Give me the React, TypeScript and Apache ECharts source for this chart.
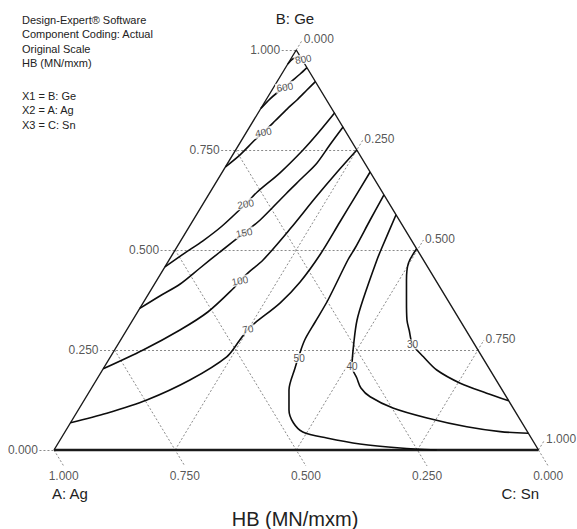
import React, { useEffect, useRef } from "react";
import * as echarts from "echarts";

// ---- data ----
const ticks = [0, 0.25, 0.5, 0.75, 1];
const tickText = ["0.000", "0.250", "0.500", "0.750", "1.000"];
const levels = [800, 600, 400, 200, 150, 100, 70, 50, 40, 30];

// contour paths as [B: Ge, C: Sn] fractions (A: Ag = 1 - B - C)
const c800 = [[0.965, 0], [0.978, 0.004], [0.985, 0.015]];
const c600 = [[0.854, 0], [0.878, 0.007], [0.895, 0.015], [0.908, 0.023], [0.923, 0.03], [0.94, 0.038], [0.956, 0.044]];
const c400 = [[0.708, 0], [0.738, 0.015], [0.775, 0.027], [0.794, 0.035], [0.823, 0.045], [0.853, 0.055], [0.875, 0.064], [0.9, 0.072], [0.921, 0.079]];
const c200 = [[0.458, 0], [0.493, 0.024], [0.523, 0.046], [0.56, 0.067], [0.615, 0.088], [0.645, 0.097], [0.693, 0.12], [0.75, 0.139], [0.793, 0.149], [0.843, 0.158]];
const c150 = [[0.354, 0], [0.385, 0.026], [0.415, 0.053], [0.455, 0.074], [0.495, 0.095], [0.543, 0.121], [0.575, 0.138], [0.642, 0.159], [0.683, 0.173], [0.717, 0.184], [0.763, 0.188], [0.808, 0.193]];
const c100 = [[0.203, 0], [0.25, 0.059], [0.3, 0.11], [0.345, 0.145], [0.403, 0.168], [0.423, 0.172], [0.443, 0.179], [0.475, 0.194], [0.553, 0.211], [0.63, 0.224], [0.695, 0.237], [0.75, 0.25]];
const c70 = [[0.068, 0], [0.092, 0.063], [0.125, 0.129], [0.175, 0.193], [0.233, 0.24], [0.275, 0.246], [0.302, 0.249], [0.318, 0.256], [0.368, 0.283], [0.42, 0.298], [0.488, 0.305], [0.57, 0.305], [0.633, 0.305], [0.695, 0.305]];
const c50 = [[0.638, 0.362], [0.575, 0.365], [0.505, 0.369], [0.475, 0.369], [0.375, 0.378], [0.32, 0.379], [0.275, 0.38], [0.23, 0.389], [0.205, 0.395], [0.15, 0.41], [0.1, 0.435], [0.068, 0.46], [0.045, 0.491], [0.03, 0.548], [0.015, 0.624], [0.005, 0.712], [0, 0.79]];
const c40 = [[0.588, 0.412], [0.505, 0.424], [0.475, 0.429], [0.375, 0.45], [0.325, 0.463], [0.275, 0.482], [0.208, 0.511], [0.18, 0.535], [0.155, 0.556], [0.133, 0.586], [0.105, 0.647], [0.08, 0.73], [0.058, 0.823], [0.046, 0.898], [0.042, 0.958]];
const c30 = [[0.503, 0.497], [0.467, 0.498], [0.425, 0.515], [0.375, 0.54], [0.325, 0.566], [0.3, 0.583], [0.264, 0.608], [0.233, 0.646], [0.2, 0.69], [0.167, 0.755], [0.142, 0.822], [0.123, 0.877]];

// contour label anchor points [B, C] and tilt (degrees)
const labelAt = [[0.977, 0.026], [0.907, 0.023], [0.794, 0.035], [0.615, 0.088], [0.543, 0.121], [0.423, 0.172], [0.302, 0.249], [0.23, 0.391], [0.208, 0.511], [0.264, 0.608]];
const labelTilt = [10, 10, 10, 10, 10, 10, 10, 0, 0, 0];

const infoLines = [
  "Design-Expert® Software",
  "Component Coding: Actual",
  "Original Scale",
  "HB (MN/mxm)",
  "X1 = B: Ge",
  "X2 = A: Ag",
  "X3 = C: Sn",
];
const infoY = [20, 34.3, 48.6, 62.9, 96, 110.3, 124.6];

const FONT = '"Liberation Sans", Arial, Helvetica, sans-serif';

// ternary (B, C) -> cartesian data coordinates
function xy(b: number, c: number): number[] {
  return [c + b / 2, b];
}

export default function App() {
  const ref = useRef<HTMLDivElement>(null);
  useEffect(() => {
    if (!ref.current) return;
    const chart = echarts.init(ref.current, undefined, { renderer: "svg" });

    const contours = [c800, c600, c400, c200, c150, c100, c70, c50, c40, c30];

    const gridLines: any[] = [];
    const bLabels: any[] = [];
    const aLabels: any[] = [];
    const cLabels: any[] = [];
    const EB = 0.03, EA = 0.04, EC = 0.025;
    ticks.forEach((t, i) => {
      const bEnd = t > 0 && t < 1 ? xy(t, 1 - t) : xy(t, 0);
      gridLines.push({ coords: [xy(t, -EB), bEnd] });
      bLabels.push({ value: xy(t, -EB), name: tickText[i] });
      const aStart = t > 0 && t < 1 ? xy(1 - t, 0) : xy(0, 1 - t);
      gridLines.push({ coords: [aStart, xy(-EA, 1 - t + EA)] });
      aLabels.push({ value: xy(-EA, 1 - t + EA), name: tickText[i] });
      const cStart = t > 0 && t < 1 ? xy(0, t) : xy(1 - t, t);
      gridLines.push({ coords: [cStart, xy(1 - t + EC, t)] });
      cLabels.push({ value: xy(1 - t + EC, t), name: tickText[i] });
    });

    const tickLabelSeries = (data: any[], position: string, distance: number, offset: number[]) => ({
      type: "scatter",
      data,
      symbol: "circle",
      symbolSize: 1,
      itemStyle: { color: "rgba(0,0,0,0)" },
      silent: true,
      clip: false,
      z: 6,
      label: {
        show: true,
        formatter: "{b}",
        position,
        distance,
        offset,
        fontSize: 12,
        fontFamily: FONT,
        color: "#2a2a2a",
      },
    });

    const option: any = {
      animation: false,
      backgroundColor: "#fff",
      grid: { left: 54, top: 50, width: 484.5, height: 400, containLabel: false },
      xAxis: { type: "value", min: 0, max: 1, show: false },
      yAxis: { type: "value", min: 0, max: 1, show: false },
      series: [
        {
          type: "lines",
          coordinateSystem: "cartesian2d",
          polyline: false,
          silent: true,
          z: 1,
          clip: false,
          lineStyle: { color: "#8a8a8a", width: 1, type: [2, 2], opacity: 1 },
          data: gridLines,
        },
        {
          type: "line",
          data: [xy(0, 0), xy(1, 0), xy(0, 1)],
          symbol: "none",
          silent: true,
          clip: false,
          z: 2,
          lineStyle: { color: "#1a1a1a", width: 1.4 },
        },
        {
          type: "line",
          data: [xy(0, 0), xy(0, 1)],
          symbol: "none",
          silent: true,
          clip: false,
          z: 2,
          lineStyle: { color: "#1a1a1a", width: 2.4 },
        },
        ...contours.map((pts) => ({
          type: "line",
          data: pts.map(([b, c]) => xy(b, c)),
          symbol: "none",
          smooth: 0.3,
          silent: true,
          clip: false,
          z: 3,
          lineStyle: { color: "#0d0d0d", width: 1.6 },
        })),
        {
          type: "scatter",
          data: labelAt.map(([b, c], i) => ({
            value: xy(b, c),
            name: String(levels[i]),
            label: { rotate: labelTilt[i] },
          })),
          symbol: "circle",
          symbolSize: 1,
          itemStyle: { color: "rgba(0,0,0,0)" },
          silent: true,
          clip: false,
          z: 7,
          label: {
            show: true,
            formatter: "{b}",
            position: "inside",
            fontSize: 10,
            fontFamily: FONT,
            color: "#222",
            backgroundColor: "#fff",
            padding: [0, 1],
          },
        },
        tickLabelSeries(bLabels, "left", 1, [0, 0]),
        tickLabelSeries(aLabels, "bottom", 3, [0, 0]),
        tickLabelSeries(cLabels, "right", 1, [0, -1]),
      ],
      graphic: [
        ...infoLines.map((s, i) => ({
          type: "text",
          x: 22,
          y: infoY[i],
          silent: true,
          style: { text: s, fill: "#222", font: `11px ${FONT}`, verticalAlign: "middle", align: "left" },
        })),
        {
          type: "text", x: 295, y: 18, silent: true,
          style: { text: "B: Ge", fill: "#222", font: `15px ${FONT}`, align: "center", verticalAlign: "middle" },
        },
        {
          type: "text", x: 52, y: 493, silent: true,
          style: { text: "A: Ag", fill: "#222", font: `15px ${FONT}`, align: "left", verticalAlign: "middle" },
        },
        {
          type: "text", x: 539, y: 493, silent: true,
          style: { text: "C: Sn", fill: "#222", font: `15px ${FONT}`, align: "right", verticalAlign: "middle" },
        },
        {
          type: "text", x: 295, y: 519, silent: true,
          style: { text: "HB (MN/mxm)", fill: "#222", font: `20px ${FONT}`, align: "center", verticalAlign: "middle" },
        },
      ],
    };
    chart.setOption(option);
    return () => chart.dispose();
  }, []);
  return (
    <div
      ref={ref}
      style={{ position: "fixed", left: 0, top: 0, width: 577, height: 529, background: "#fff" }}
    />
  );
}
